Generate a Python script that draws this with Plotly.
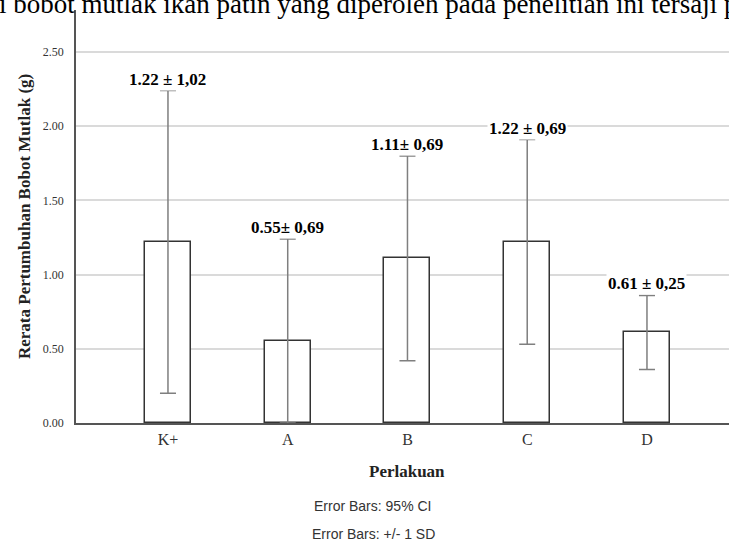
import plotly.graph_objects as go

categories = ["K+", "A", "B", "C", "D"]
means = [1.22, 0.55, 1.11, 1.22, 0.61]
sds = [1.02, 0.69, 0.69, 0.69, 0.25]
labels = ["1.22 ± 1,02", "0.55± 0,69", "1.11± 0,69", "1.22 ± 0,69", "0.61 ± 0,25"]
ytick_vals = [0.0, 0.5, 1.0, 1.5, 2.0, 2.5]
ytick_text = ["0.00", "0.50", "1.00", "1.50", "2.00", "2.50"]

serif = "Liberation Serif, Times New Roman, serif"
sans = "Liberation Sans, Arial, sans-serif"

W, H = 729, 542
L, R, T, B = 76, 0, 10, 119
ph = H - T - B
pw = W - L - R

def py(ypix):
    return (H - B - ypix) / ph

def px(xpix):
    return (xpix - L) / pw

xs = list(range(len(categories)))
minus = [min(s, m) for s, m in zip(sds, means)]

fig = go.Figure()
fig.add_trace(go.Bar(
    x=xs, y=means, width=0.384,
    marker=dict(color="white", line=dict(color="#333333", width=1.5)),
    error_y=dict(type="data", symmetric=False, array=sds, arrayminus=minus,
                 color="#7f7f7f", thickness=1.5, width=8),
    showlegend=False, hoverinfo="skip",
))

for x, m, s, lab in zip(xs, means, sds, labels):
    fig.add_annotation(x=x, y=m + s, xref="x", yref="y", text="<b>" + lab + "</b>",
                       showarrow=False, xanchor="center", yanchor="bottom", yshift=0,
                       bgcolor="white", borderpad=1,
                       font=dict(family=serif, size=17, color="black"))

fig.update_layout(
    width=W, height=H,
    margin=dict(l=L, r=R, t=T, b=B),
    plot_bgcolor="white", paper_bgcolor="white",
    bargap=0,
    xaxis=dict(range=[-0.768, 4.685], tickvals=xs, ticktext=categories,
               showgrid=False, zeroline=False, showline=True, linecolor="#555555",
               linewidth=1.5, ticks="", tickfont=dict(family=serif, size=16, color="#333333"),
               ticklabelstandoff=1),
    yaxis=dict(range=[0, 2.783], tickvals=ytick_vals, ticktext=ytick_text,
               showgrid=True, gridcolor="#dadada", gridwidth=1.5, zeroline=False,
               showline=True, linecolor="#555555", linewidth=1.5, ticks="",
               tickfont=dict(family=serif, size=12, color="#333333"),
               ticklabelstandoff=8),
)

def note(xp, yp, text, font, **kw):
    fig.add_annotation(x=px(xp), y=py(yp), xref="paper", yref="paper", text=text,
                       showarrow=False, font=font,
                       xanchor=kw.pop("xanchor", "center"), yanchor=kw.pop("yanchor", "middle"), **kw)

note(24, 217, "<b>Rerata Pertumbuhan Bobot Mutlak (g)</b>",
     dict(family=serif, size=17, color="#222222"), textangle=-90)
note(407, 472, "<b>Perlakuan</b>", dict(family=serif, size=17, color="#222222"))
note(372, 506, "Error Bars: 95% CI", dict(family=sans, size=14, color="#333333"))
note(373, 534, "Error Bars: +/- 1 SD", dict(family=sans, size=14, color="#333333"))
note(-3, 21, "i bobot mutlak ikan patin yang diperoleh pada penelitian ini tersaji pada",
     dict(family=serif, size=27, color="black"), xanchor="left", yanchor="bottom")

fig.write_html("out.html", config={"displayModeBar": False},
               post_script="document.body.style.margin='0';document.body.style.overflow='hidden';")
